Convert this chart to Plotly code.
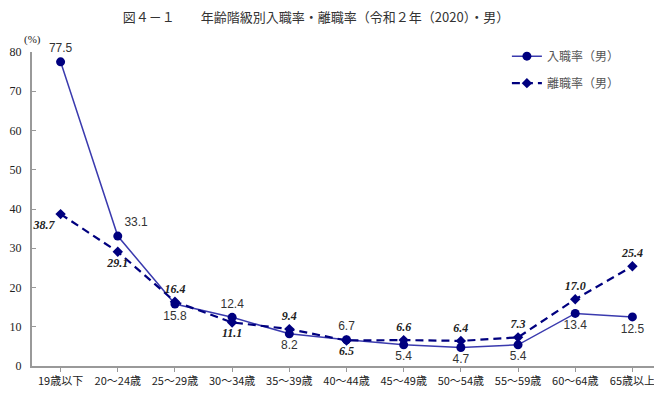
import plotly.graph_objects as go

categories = ["19歳以下", "20～24歳", "25～29歳", "30～34歳", "35～39歳", "40～44歳",
              "45～49歳", "50～54歳", "55～59歳", "60～64歳", "65歳以上"]
hire_rate = [77.5, 33.1, 15.8, 12.4, 8.2, 6.7, 5.4, 4.7, 5.4, 13.4, 12.5]
sep_rate = [38.7, 29.1, 16.4, 11.1, 9.4, 6.5, 6.6, 6.4, 7.3, 17.0, 25.4]
y_ticks = [0, 10, 20, 30, 40, 50, 60, 70, 80]

hire_pos = ["top center", "top right", "bottom center", "top center", "bottom center",
            "top center", "bottom center", "bottom center", "bottom center",
            "bottom center", "bottom center"]
sep_pos = ["bottom left", "bottom center", "top center", "bottom center", "top center",
           "bottom center", "top center", "top center", "top center", "top center",
           "top center"]

navy = "#00007f"
line_col = "#3a3aae"
tick_font = dict(family="Liberation Serif, serif", size=12, color="#222222")

fig = go.Figure()
fig.add_trace(go.Scatter(
    x=categories, y=hire_rate, name="入職率（男）", mode="lines+markers+text",
    legendgroup="a",
    line=dict(color=line_col, width=1.5),
    marker=dict(symbol="circle", size=9, color=navy),
    text=[f"{v:.1f}" for v in hire_rate], textposition=hire_pos,
    textfont=dict(family="Liberation Sans, Arial, sans-serif", size=12, color="#333333"),
    cliponaxis=False,
))
fig.add_trace(go.Scatter(
    x=categories, y=sep_rate, name="離職率（男）", mode="lines+markers+text",
    legendgroup="b",
    line=dict(color=navy, width=2.2, dash="8px,5px"),
    marker=dict(symbol="diamond", size=8, color=navy),
    text=[f"<b><i>{v:.1f}</i></b>" for v in sep_rate], textposition=sep_pos,
    textfont=dict(family="Liberation Serif, serif", size=12, color="#222222"),
    cliponaxis=False,
))

fig.update_layout(
    width=654, height=387,
    paper_bgcolor="white", plot_bgcolor="white",
    margin=dict(l=24, r=1, t=44, b=29),
    title=dict(text="図４－１　　年齢階級別入職率・離職率（令和２年（2020）・男）",
               x=0.471, xanchor="center", y=0.988, yanchor="top",
               font=dict(family="Noto Sans CJK JP", size=13, color="#333333")),
    showlegend=True,
    legend=dict(x=0.755, y=1.033, xanchor="left", yanchor="top",
                bgcolor="rgba(0,0,0,0)", tracegroupgap=8,
                font=dict(family="Noto Sans CJK JP", size=12, color="#555555")),
    font=dict(family="Noto Sans CJK JP"),
)
fig.update_xaxes(
    type="category", showgrid=False, showline=True, linecolor="#999999", linewidth=2,
    ticks="outside", ticklen=4, tickcolor="#999999",
    tickfont=dict(family="Noto Sans CJK JP", size=11, color="#222222"),
    range=[-0.5, 10.5],
)
fig.update_yaxes(
    range=[0, 80], tickvals=y_ticks, showgrid=False, zeroline=False,
    showline=True, linecolor="#999999", linewidth=2,
    ticks="inside", ticklen=4, tickcolor="#999999", tickfont=tick_font,
    ticklabelstandoff=6,
)
fig.add_annotation(text="(%)", xref="paper", yref="paper", x=0.0, y=1.0,
                   xanchor="center", yanchor="bottom", yshift=4, showarrow=False,
                   font=dict(family="Liberation Serif, serif", size=11, color="#222222"))

fig.write_html("out.html")
